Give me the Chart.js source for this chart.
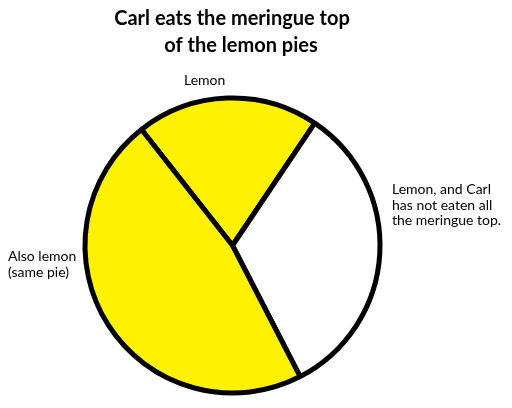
<!DOCTYPE html>
<html>
<head>
<meta charset="utf-8">
<script src="https://cdn.jsdelivr.net/npm/chart.js@4"></script>
<style>
  html, body { margin: 0; padding: 0; background: #ffffff; }
  #wrap { width: 512px; height: 408px; }
</style>
</head>
<body>
<div id="wrap"><canvas id="c" width="512" height="408"></canvas></div>
<script>
// ---- data ----
const categories = ['Lemon', 'Lemon, and Carl has not eaten all the meringue top.', 'Also lemon (same pie)'];
const sliceValues = [20, 33, 47];
const sliceColors = ['#FFF200', '#FFFFFF', '#FFF200'];
const titleLines = ['Carl eats the meringue top', 'of the lemon pies'];
const labelLines = [
  ['Lemon'],
  ['Lemon, and Carl', 'has not eaten all', 'the meringue top.'],
  ['Also lemon', '(same pie)']
];

// ---- text layout (positions of the free text) ----
const titleStyle = { font: 'bold 20px Lato', color: '#000000', lines: [{x: 232, y: 25}, {x: 241, y: 52}] };
const labelStyle = { font: '14px Lato', color: '#000000', lineHeight: 15.5 };
const labelAnchors = [{x: 184, y: 85}, {x: 392, y: 194}, {x: 8, y: 261}];

const textPlugin = {
  id: 'texts',
  afterDraw(chart) {
    const ctx = chart.ctx;
    ctx.save();
    ctx.fillStyle = titleStyle.color;
    ctx.font = titleStyle.font;
    ctx.textAlign = 'center';
    ctx.textBaseline = 'alphabetic';
    titleLines.forEach((t, i) => ctx.fillText(t, titleStyle.lines[i].x, titleStyle.lines[i].y));
    ctx.font = labelStyle.font;
    ctx.fillStyle = labelStyle.color;
    ctx.textAlign = 'left';
    labelLines.forEach((lines, i) => {
      lines.forEach((l, j) => ctx.fillText(l, labelAnchors[i].x, labelAnchors[i].y + j * labelStyle.lineHeight));
    });
    ctx.restore();
  }
};

new Chart(document.getElementById('c'), {
  type: 'pie',
  data: {
    labels: categories,
    datasets: [{
      data: sliceValues,
      backgroundColor: sliceColors,
      borderColor: '#000000',
      borderWidth: 5,
      hoverOffset: 0
    }]
  },
  options: {
    responsive: false,
    animation: false,
    rotation: -38.1,
    layout: { padding: { top: 95.5, left: 82.5, right: 129.5, bottom: 12.5 } },
    plugins: {
      legend: { display: false },
      tooltip: { enabled: false },
      title: { display: false }
    }
  },
  plugins: [textPlugin]
});
</script>
</body>
</html>
